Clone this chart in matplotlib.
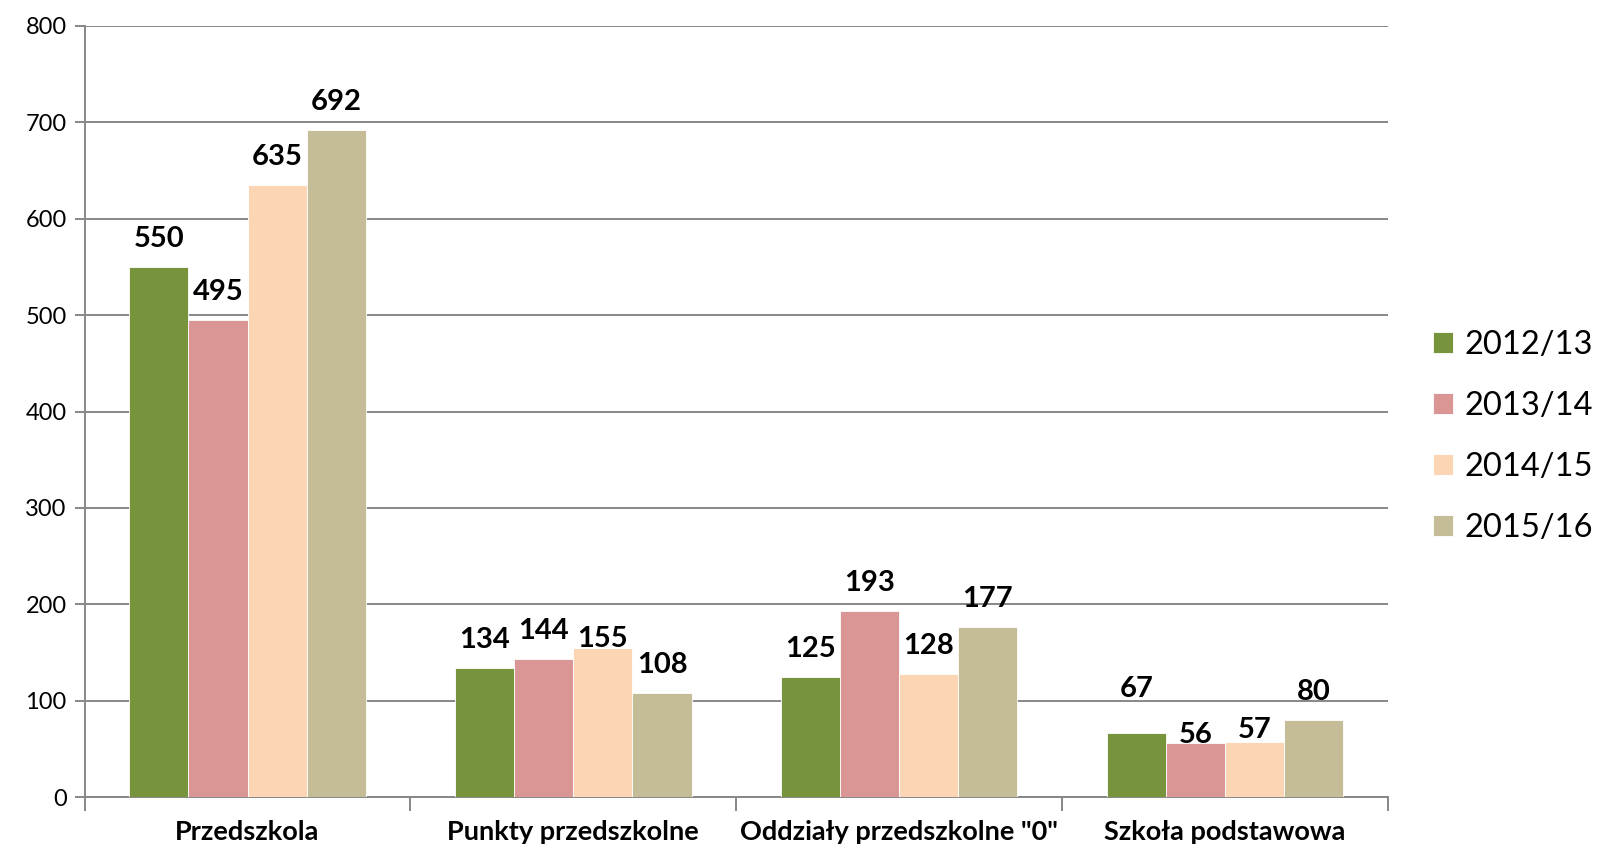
import numpy as np
import matplotlib.pyplot as plt

# chart data
categories = ["Przedszkola", "Punkty przedszkolne", "Oddziały przedszkolne \"0\"", "Szkoła podstawowa"]
years = ["2012/13", "2013/14", "2014/15", "2015/16"]
v_2012 = [550, 134, 125, 67]
v_2013 = [495, 144, 193, 56]
v_2014 = [635, 155, 128, 57]
v_2015 = [692, 108, 177, 80]
series = [v_2012, v_2013, v_2014, v_2015]
colors = ["#77933C", "#D99694", "#FCD5B5", "#C4BD97"]

# label offsets above bar top (points), a few labels are nudged like in the original
label_offset = np.full((4, 4), 10.8)
label_offset[2][1] = -3.0   # 155
label_offset[0][3] = 22.5   # 67
label_offset[1][3] = -3.5   # 56
label_offset[2][3] = -0.5   # 57

plt.rcParams['font.family'] = ['Lato', 'DejaVu Sans']

fig = plt.figure(figsize=(15.99, 8.51), dpi=100)
ax = fig.add_axes([0.0529, 0.0629, 0.8151, 0.9071])

x = np.arange(len(categories))
bw = 0.1815
for i, (vals, c) in enumerate(zip(series, colors)):
    pos = x + (i - 1.5) * bw
    ax.bar(pos, vals, width=bw, color=c, edgecolor="white", linewidth=0.6,
           label=years[i], zorder=3)
    for j, v in enumerate(vals):
        ax.annotate(str(v), (pos[j], v), xytext=(0, label_offset[i][j]),
                    textcoords="offset points", ha="center", va="bottom",
                    fontsize=21, fontweight="bold", zorder=4)

ax.set_xlim(-0.5, 3.5)
ax.set_ylim(0, 800)
ax.set_yticks(range(0, 801, 100))
ax.yaxis.grid(True, color="#878787", linewidth=1.4, zorder=0)
ax.set_axisbelow(True)

# category labels between boundary ticks
ax.set_xticks(np.arange(-0.5, 4.0, 1.0))
ax.set_xticklabels([])
ax.set_xticks(x, minor=True)
ax.set_xticklabels(categories, minor=True, fontsize=19.5, fontweight="bold")
ax.tick_params(axis="x", which="minor", length=0, pad=16.5)
ax.tick_params(axis="x", which="major", length=10, width=1.4, color="#878787")
ax.tick_params(axis="y", length=7, width=1.4, color="#878787", labelsize=17, pad=6)

for s in ["top", "right"]:
    ax.spines[s].set_visible(False)
for s in ["left", "bottom"]:
    ax.spines[s].set_color("#878787")
    ax.spines[s].set_linewidth(1.4)

ax.legend(loc="center left", bbox_to_anchor=(1.012, 0.468), frameon=False,
          fontsize=23.5, handlelength=0.62, handleheight=0.62, handletextpad=0.35,
          labelspacing=0.95)

fig.savefig("out.png", dpi=100)
